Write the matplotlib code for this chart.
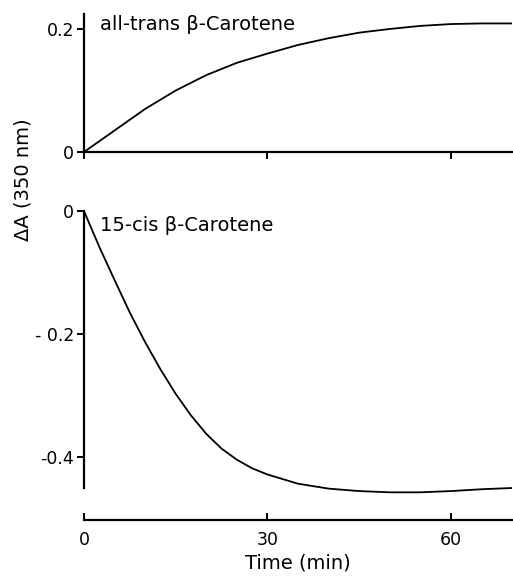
import numpy as np
import matplotlib
matplotlib.use("Agg")
import matplotlib.pyplot as plt

plt.rcParams['font.family'] = ['DejaVu Sans']

# tiempo (min) y cambio de absorbancia
t_trans = [0, 5, 10, 15, 20, 25, 30, 35, 40, 45, 50, 55, 60, 65, 70]
a_trans = [0, 0.035, 0.07, 0.10, 0.125, 0.145, 0.16, 0.174, 0.185, 0.194,
           0.200, 0.205, 0.208, 0.209, 0.209]

t_cis = [0, 2.5, 5, 7.5, 10, 12.5, 15, 17.5, 20, 22.5, 25, 27.5, 30, 35,
         40, 45, 50, 55, 60, 65, 70]
a_cis = [0, -0.058, -0.112, -0.165, -0.213, -0.257, -0.297, -0.332, -0.362,
         -0.386, -0.404, -0.418, -0.428, -0.443, -0.451, -0.455, -0.457,
         -0.457, -0.455, -0.452, -0.45]

x_ticks = [0, 30, 60]
W, H = 513, 579

fig = plt.figure(figsize=(W / 100, H / 100), dpi=100)

def px(left, top, right, bottom):
    return [left / W, 1 - bottom / H, (right - left) / W, (bottom - top) / H]

ax1 = fig.add_axes(px(84, 13.6, 512, 152))
ax2 = fig.add_axes(px(84, 205, 512, 520))

for ax in (ax1, ax2):
    ax.spines['top'].set_visible(False)
    ax.spines['right'].set_visible(False)
    for s in ('left', 'bottom'):
        ax.spines[s].set_linewidth(1.6)
    ax.set_xlim(0, 70)
    ax.tick_params(width=1.4, length=5, labelsize=12.5, pad=2)

# panel superior
ax1.plot(t_trans, a_trans, color='black', lw=1.3)
ax1.set_ylim(0, 0.225)
ax1.spines['left'].set_bounds(0, 0.225)
ax1.set_yticks([0, 0.2])
ax1.set_yticklabels(['0', '0.2'])
ax1.set_xticks(x_ticks)
ax1.tick_params(axis='x', direction='out', labelbottom=False)
ax1.text(2.6, 0.208, 'all-trans β-Carotene', fontsize=14, va='center')

# panel inferior
ax2.plot(t_cis, a_cis, color='black', lw=1.3)
ax2.set_ylim(-0.502, 0.01)
ax2.spines['left'].set_bounds(-0.45, 0)
ax2.set_yticks([0, -0.2, -0.4])
ax2.set_yticklabels(['0', '- 0.2', '-0.4'])
ax2.set_xticks(x_ticks)
ax2.tick_params(axis='x', direction='in', pad=8)
ax2.text(2.6, -0.023, '15-cis β-Carotene', fontsize=14, va='center')
ax2.set_xlabel('Time (min)', fontsize=14, labelpad=3)

fig.text(0.045, 0.689, 'ΔA (350 nm)', rotation=90, fontsize=14,
         ha='center', va='center')

fig.savefig('out.png', dpi=100)
